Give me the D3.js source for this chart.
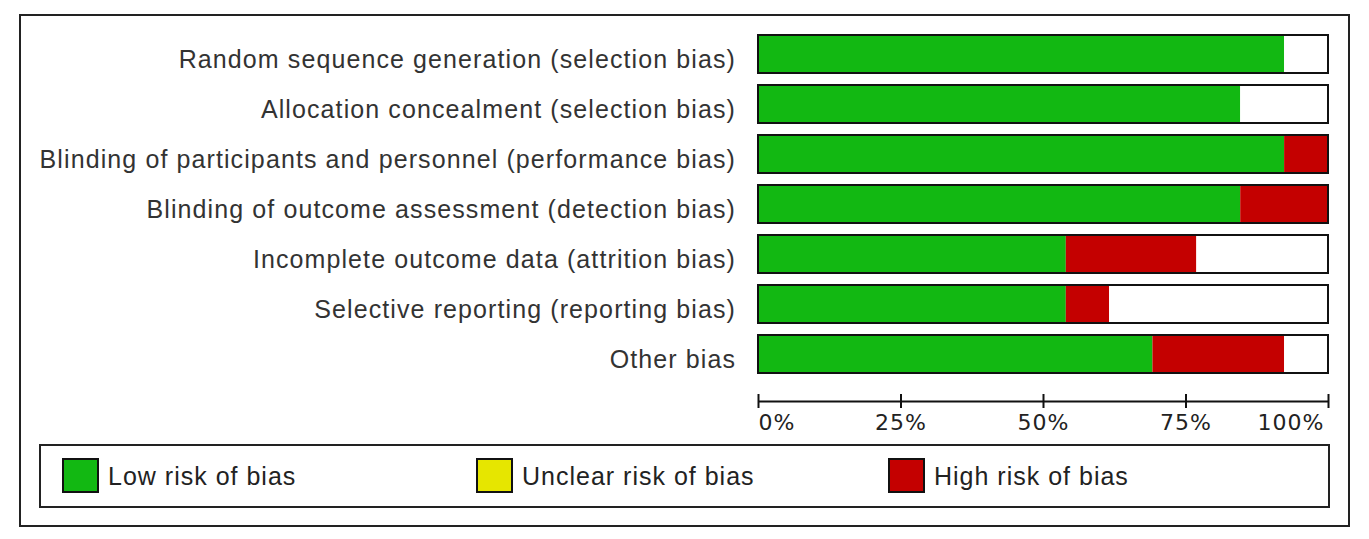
<!DOCTYPE html>
<html>
<head>
<meta charset="utf-8">
<script src="https://cdn.jsdelivr.net/npm/d3@7"></script>
<style>
  html, body { margin: 0; padding: 0; background: #fff; }
  svg { display: block; }
</style>
</head>
<body>
<svg id="chart" width="1369" height="539"></svg>
<script>
// ---- data ----
const categories = [
  "Random sequence generation (selection bias)",
  "Allocation concealment (selection bias)",
  "Blinding of participants and personnel (performance bias)",
  "Blinding of outcome assessment (detection bias)",
  "Incomplete outcome data (attrition bias)",
  "Selective reporting (reporting bias)",
  "Other bias"
];
const lowRisk     = [92.3, 84.6, 92.3, 84.6, 54.0, 54.0, 69.2];
const highRisk    = [0,    0,    7.7,  15.4, 22.9, 7.6,  23.1];
const unclearRisk = [7.7,  15.4, 0,    0,    23.1, 38.4, 7.7];
const tickValues  = [0, 25, 50, 75, 100];
const tickLabels  = ["0%", "25%", "50%", "75%", "100%"];
const legendLabels = ["Low risk of bias", "Unclear risk of bias", "High risk of bias"];

// ---- styles ----
const colLow = "#12b812", colUnclear = "#e6e600", colHigh = "#c40000";

const svg = d3.select("#chart");

// outer frame
svg.append("rect").attr("x", 20).attr("y", 15).attr("width", 1329).attr("height", 511)
  .attr("fill", "none").attr("stroke", "#222").attr("stroke-width", 2);

const x = d3.scaleLinear().domain([0, 100]).range([758, 1328]);
const y = d3.scaleBand().domain(categories).range([29, 379]).paddingInner(12/50).paddingOuter(6/50);

// series stacked in picture order: low, high, unclear(white remainder)
const rows = categories.map((c, i) => ({cat: c, low: lowRisk[i], high: highRisk[i], unclear: unclearRisk[i]}));
const stack = d3.stack().keys(["low", "high", "unclear"]);
const series = stack(rows);
const fills = {low: colLow, high: colHigh, unclear: "#ffffff"};

const g = svg.append("g");
series.forEach(s => {
  g.selectAll(null).data(s).enter().append("rect")
    .attr("x", d => x(d[0]))
    .attr("y", d => y(d.data.cat))
    .attr("width", d => Math.max(0, x(d[1]) - x(d[0])))
    .attr("height", y.bandwidth())
    .attr("fill", fills[s.key]);
});
// bar outlines
g.selectAll(null).data(rows).enter().append("rect")
  .attr("x", x(0)).attr("y", d => y(d.cat))
  .attr("width", x(100) - x(0)).attr("height", y.bandwidth())
  .attr("fill", "none").attr("stroke", "#111").attr("stroke-width", 2);

// category labels
g.selectAll(null).data(categories).enter().append("text")
  .attr("x", 736).attr("y", d => y(d) + y.bandwidth() / 2 + 14)
  .attr("text-anchor", "end")
  .attr("font-family", "Liberation Sans, Arial, sans-serif")
  .attr("font-size", 25).attr("letter-spacing", 1.1)
  .attr("fill", "#333")
  .text(d => d);

// axis
const axisG = svg.append("g").attr("transform", "translate(0,401)");
const axis = d3.axisBottom(x).tickValues(tickValues).tickSize(0).tickFormat((d, i) => tickLabels[i]);
axisG.call(axis);
axisG.select(".domain").attr("stroke", "#111").attr("stroke-width", 2);
axisG.selectAll(".tick line").attr("y1", -7).attr("y2", 7).attr("stroke", "#111").attr("stroke-width", 2);
axisG.selectAll(".tick text")
  .attr("y", 29).attr("dy", 0)
  .attr("font-family", "DejaVu Sans, sans-serif").attr("font-size", 22).attr("letter-spacing", 1)
  .attr("fill", "#222")
  .attr("text-anchor", (d, i) => i === 0 ? "start" : (i === tickValues.length - 1 ? "end" : "middle"))
  .attr("dx", (d, i) => i === 0 ? 0 : (i === tickValues.length - 1 ? -4 : 0));

// legend
svg.append("rect").attr("x", 40).attr("y", 445).attr("width", 1289).attr("height", 62)
  .attr("fill", "none").attr("stroke", "#222").attr("stroke-width", 2);
const legendX = [63, 477, 889];
const legendCols = [colLow, colUnclear, colHigh];
const lg = svg.append("g");
legendLabels.forEach((t, i) => {
  lg.append("rect").attr("x", legendX[i]).attr("y", 459).attr("width", 35).attr("height", 33)
    .attr("fill", legendCols[i]).attr("stroke", "#111").attr("stroke-width", 2);
  lg.append("text").attr("x", legendX[i] + 45).attr("y", 485)
    .attr("font-family", "Liberation Sans, Arial, sans-serif").attr("font-size", 25)
    .attr("letter-spacing", 1.0)
    .attr("fill", "#222").text(t);
});
</script>
</body>
</html>
